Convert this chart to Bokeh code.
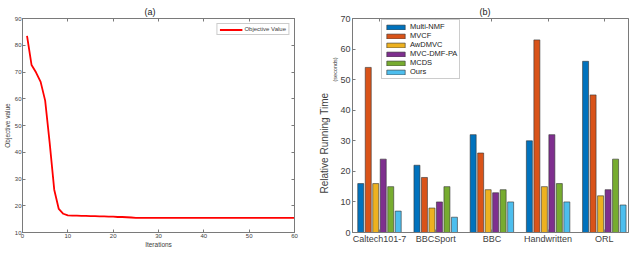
from bokeh.plotting import figure
from bokeh.layouts import row
from bokeh.models import (LinearAxis, Legend, LegendItem, Title, FixedTicker, Range1d)
from bokeh.embed import file_html
from bokeh.resources import INLINE

# ---------------- data ----------------
iterations = list(range(1, 61))
objective = [83.5, 72.6, 69.8, 66.3, 59.3, 43.4, 26.0, 18.8, 17.0, 16.4,
             16.3, 16.3, 16.2, 16.2, 16.1, 16.1, 16.0, 16.0, 15.9, 15.9,
             15.8, 15.8, 15.7, 15.6, 15.5, 15.5, 15.5, 15.5, 15.5, 15.5,
             15.5, 15.5, 15.5, 15.5, 15.5, 15.5, 15.5, 15.5, 15.5, 15.5,
             15.5, 15.5, 15.5, 15.5, 15.5, 15.5, 15.5, 15.5, 15.5, 15.5,
             15.5, 15.5, 15.5, 15.5, 15.5, 15.5, 15.5, 15.5, 15.5, 15.5]

datasets = ["Caltech101-7", "BBCSport", "BBC", "Handwritten", "ORL"]
methods = ["Multi-NMF", "MVCF", "AwDMVC", "MVC-DMF-PA", "MCDS", "Ours"]
t_multinmf = [16, 22, 32, 30, 56]
t_mvcf = [54, 18, 26, 63, 45]
t_awdmvc = [16, 8, 14, 15, 12]
t_mvcdmfpa = [24, 10, 13, 32, 14]
t_mcds = [15, 15, 14, 16, 24]
t_ours = [7, 5, 10, 10, 9]
series = [t_multinmf, t_mvcf, t_awdmvc, t_mvcdmfpa, t_mcds, t_ours]
colors = ["#0072BD", "#D95319", "#EDB120", "#7E2F8E", "#77AC30", "#4DBEEE"]

FONT = "Liberation Sans"
AX = "#7a7a7a"
TXT = "#404040"


def style_axis(ax, fs):
    ax.axis_line_color = AX
    ax.major_tick_line_color = AX
    ax.major_tick_in = 3
    ax.major_tick_out = 0
    ax.minor_tick_line_color = None
    ax.major_label_text_font = FONT
    ax.major_label_text_font_size = fs
    ax.major_label_text_color = TXT
    ax.major_label_text_line_height = 1.0
    ax.major_label_standoff = 1
    ax.axis_label_text_font = FONT
    ax.axis_label_text_font_style = "normal"
    ax.axis_label_text_color = TXT
    ax.axis_label_text_line_height = 1.0
    ax.axis_label_standoff = 0


def top_axis(p, xticks):
    top = LinearAxis(ticker=FixedTicker(ticks=xticks))
    style_axis(top, "0px")
    top.major_label_standoff = 0
    top.major_label_overrides = {t: "" for t in xticks}
    p.add_layout(top, "above")


def right_axis(p, yticks):
    right = LinearAxis(ticker=FixedTicker(ticks=yticks))
    style_axis(right, "0px")
    right.major_label_standoff = 0
    right.major_label_overrides = {t: "" for t in yticks}
    p.add_layout(right, "right")


def panel_title(p, text, offset):
    t = p.title
    t.text = text
    t.align = "left"
    t.offset = offset
    t.text_font = FONT
    t.text_font_size = "9px"
    t.text_font_style = "normal"
    t.text_color = "#222222"
    t.text_line_height = 1.0
    t.standoff = 3


# ---------------- panel (a) ----------------
pa = figure(width=316, height=250, output_backend="svg", toolbar_location=None,
            x_range=Range1d(0, 60), y_range=Range1d(10, 90),
            min_border_left=18, min_border_right=22, min_border_top=18,
            min_border_bottom=16)
panel_title(pa, "(a)", 122)
pa.grid.visible = False
pa.outline_line_color = AX
xt_a = [0, 10, 20, 30, 40, 50, 60]
yt_a = [10, 20, 30, 40, 50, 60, 70, 80, 90]
pa.xaxis.ticker = FixedTicker(ticks=xt_a)
pa.yaxis.ticker = FixedTicker(ticks=yt_a)
for ax in pa.xaxis + pa.yaxis:
    style_axis(ax, "6px")
pa.xaxis.axis_label = "Iterations"
pa.yaxis.axis_label = "Objective value"
pa.xaxis.axis_label_text_font_size = "6.5px"
pa.yaxis.axis_label_text_font_size = "6.5px"
pa.yaxis.axis_label_standoff = 1
top_axis(pa, xt_a)
right_axis(pa, yt_a)

line = pa.line(iterations, objective, line_color="#FF0000", line_width=1.8)
leg_a = Legend(items=[LegendItem(label="Objective Value", renderers=[line])],
               location="top_right", margin=5, padding=2, spacing=0,
               glyph_width=23, glyph_height=5, label_height=5,
               label_text_font=FONT, label_text_font_size="6px",
               label_text_line_height=1.0,
               label_text_color=TXT, label_standoff=2,
               border_line_color="#999999", border_line_width=1)
pa.add_layout(leg_a)

# ---------------- panel (b) ----------------
pb = figure(width=316, height=250, output_backend="svg", toolbar_location=None,
            x_range=Range1d(0.52, 5.43), y_range=Range1d(0, 70),
            min_border_left=31, min_border_right=4, min_border_top=18,
            min_border_bottom=11)
panel_title(pb, "(b)", 127)
pb.grid.visible = False
pb.outline_line_color = AX
xt_b = [1, 2, 3, 4, 5]
yt_b = [0, 10, 20, 30, 40, 50, 60, 70]
pb.xaxis.ticker = FixedTicker(ticks=xt_b)
pb.yaxis.ticker = FixedTicker(ticks=yt_b)
pb.xaxis.major_label_overrides = {i + 1: d for i, d in enumerate(datasets)}
for ax in pb.xaxis + pb.yaxis:
    style_axis(ax, "9px")
pb.yaxis.major_label_standoff = 2

sec = Title(text="(seconds)", align="left", offset=151, standoff=0,
            text_font=FONT, text_font_size="5.5px", text_font_style="normal",
            text_color=TXT, text_line_height=1.0)
rrt = Title(text="Relative Running Time", align="left", offset=39, standoff=0,
            text_font=FONT, text_font_size="10px", text_font_style="normal",
            text_color=TXT, text_line_height=1.0)
pb.add_layout(sec, "left")
pb.add_layout(rrt, "left")
top_axis(pb, xt_b)

n = len(methods)
step = 0.8 / n
bw = step * 0.8
items = []
for i, (m, vals, c) in enumerate(zip(methods, series, colors)):
    xs = [g + 1 + (i - (n - 1) / 2) * step for g in range(len(datasets))]
    r = pb.vbar(x=xs, top=vals, bottom=0, width=bw, fill_color=c,
                line_color="#333333", line_width=0.6)
    items.append(LegendItem(label=m, renderers=[r]))

leg_b = Legend(items=items, location=(29, 153), padding=2, spacing=0,
               glyph_width=23, glyph_height=6, label_height=8,
               label_text_font=FONT, label_text_font_size="7.5px",
               label_text_line_height=1.0,
               label_text_color="#222222", label_standoff=3,
               border_line_color="#999999", border_line_width=1, margin=0)
pb.add_layout(leg_b)

layout = row(pa, pb)
open("out.html", "w").write(file_html(layout, INLINE))
